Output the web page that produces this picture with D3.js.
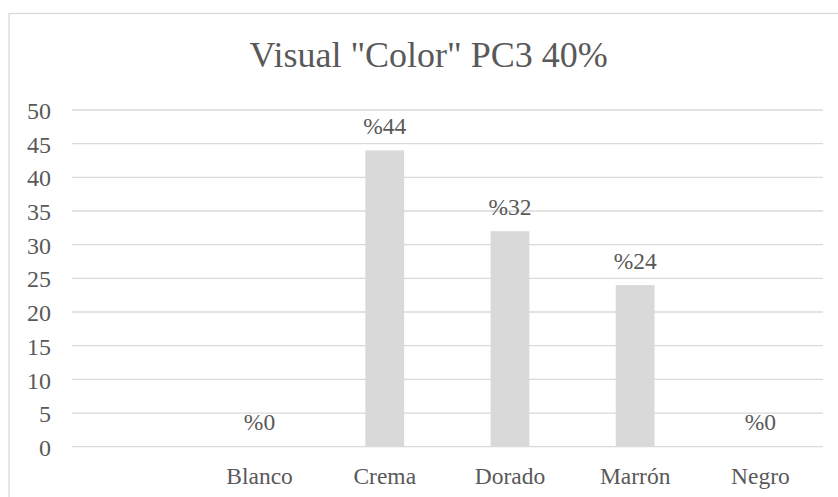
<!DOCTYPE html>
<html>
<head>
<meta charset="utf-8">
<script src="https://cdn.jsdelivr.net/npm/d3@7/dist/d3.min.js"></script>
<style>
  html, body { margin: 0; padding: 0; background: #fff; }
  svg { display: block; }
  text { font-family: "Liberation Serif", "Times New Roman", serif; fill: #595959; }
</style>
</head>
<body>
<svg id="chart" width="838" height="497"></svg>
<script>
const title = 'Visual "Color" PC3 40%';
const categories = ["", "Blanco", "Crema", "Dorado", "Marrón", "Negro"];
const values = [null, 0, 44, 32, 24, 0];
const dataLabels = [null, "%0", "%44", "%32", "%24", "%0"];
const yTicks = [0, 5, 10, 15, 20, 25, 30, 35, 40, 45, 50];

const W = 838, H = 497;
const margin = { left: 71.7, right: 15, top: 110, bottom: 50.3 };
const svg = d3.select("#chart");

// outer chart border (extends beyond the picture to the right and bottom)
svg.append("rect")
  .attr("x", 9).attr("y", 13.5)
  .attr("width", 900).attr("height", 600)
  .attr("fill", "none").attr("stroke", "#d9d9d9").attr("stroke-width", 1.3);

const x = d3.scaleBand()
  .domain(categories)
  .range([margin.left, W - margin.right])
  .paddingInner(0.69)
  .paddingOuter(0.345);

const y = d3.scaleLinear()
  .domain([0, 50])
  .range([H - margin.bottom, margin.top]);

// gridlines
svg.append("g")
  .selectAll("line")
  .data(yTicks)
  .join("line")
  .attr("x1", margin.left).attr("x2", W - margin.right)
  .attr("y1", d => y(d)).attr("y2", d => y(d))
  .attr("stroke", "#d9d9d9").attr("stroke-width", 1.3);

// y axis labels
const yAxis = d3.axisLeft(y).tickValues(yTicks).tickSize(0).tickPadding(0);
const gy = svg.append("g").attr("transform", `translate(51,0)`).call(yAxis);
gy.select(".domain").remove();
gy.selectAll("text")
  .attr("font-size", "24px")
  .attr("font-family", '"Liberation Serif", "Times New Roman", serif')
  .attr("fill", "#595959")
  .attr("dy", "0.36em");

// x axis labels
const xAxis = d3.axisBottom(x).tickSize(0).tickPadding(0);
const gx = svg.append("g").attr("transform", `translate(0,${y(0)})`).call(xAxis);
gx.select(".domain").remove();
gx.selectAll("text")
  .attr("font-size", "23.5px")
  .attr("font-family", '"Liberation Serif", "Times New Roman", serif')
  .attr("fill", "#595959")
  .attr("y", 37.3)
  .attr("dy", 0);

const rows = categories.map((c, i) => ({ c, v: values[i], label: dataLabels[i] }))
  .filter(d => d.v !== null);

// bars
svg.append("g")
  .selectAll("rect")
  .data(rows)
  .join("rect")
  .attr("x", d => x(d.c))
  .attr("width", x.bandwidth())
  .attr("y", d => y(d.v))
  .attr("height", d => y(0) - y(d.v))
  .attr("fill", "#d9d9d9");

// data labels
svg.append("g")
  .selectAll("text")
  .data(rows)
  .join("text")
  .attr("x", d => x(d.c) + x.bandwidth() / 2)
  .attr("y", d => y(d.v) - 16.5)
  .attr("text-anchor", "middle")
  .attr("font-size", "23.5px")
  .text(d => d.label);

// title
svg.append("text")
  .attr("x", 428.7).attr("y", 66.7)
  .attr("text-anchor", "middle")
  .attr("font-size", "36px")
  .text(title);
</script>
</body>
</html>
